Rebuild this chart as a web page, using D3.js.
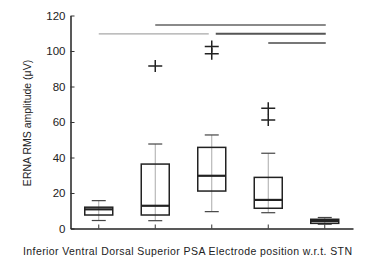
<!DOCTYPE html>
<html>
<head>
<meta charset="utf-8">
<script src="https://cdn.jsdelivr.net/npm/d3@7"></script>
<style>
body { margin: 0; background: #fff; }
svg text { font-family: "Liberation Sans", Arial, sans-serif; fill: #222; }
</style>
</head>
<body>
<script>
var categories = ["Inferior", "Ventral", "Dorsal", "Superior", "PSA"];
var whiskerLo = [4.5, 4.4, 9.5, 8.9, 2.4];
var q1 = [7.6, 7.6, 21.1, 11.4, 2.9];
var median = [10.8, 12.8, 29.7, 16.1, 4.2];
var q3 = [12, 36.3, 45.7, 28.8, 5.2];
var whiskerHi = [15.7, 47.6, 52.7, 42.4, 6.2];
var outliers = [[], [91.5], [98.5, 102.5], [61.1, 67.7], []];
var yTicks = [0, 20, 40, 60, 80, 100, 120];

// significance bars: from, to, level
var sigFrom = ["Ventral", "Inferior", "Dorsal", "Superior"];
var sigTo = ["PSA", "Dorsal", "PSA", "PSA"];
var sigLevel = [114.6, 109.7, 109.7, 104.5];

var yTitle = "ERNA RMS amplitude (\u03bcV)";
var xTitle = "Electrode position w.r.t. STN";

var width = 371, height = 260;

var svg = d3.select("body").append("svg")
	.attr("width", width)
	.attr("height", height);

var x = d3.scaleBand().domain(categories).range([70.5, 353]);
var y = d3.scaleLinear().domain([0, 120]).range([228.5, 15.5]);
var bw = 28, cw = 14;

var rows = categories.map(function(c, i) {
	return {cat: c, lo: whiskerLo[i], q1: q1[i], med: median[i], q3: q3[i], hi: whiskerHi[i], out: outliers[i]};
});

// significance lines
var sigColor = ["#8a8a8a", "#a8a8a8", "#555", "#777"];
var sigWidth = [2, 1.3, 2, 2];
sigFrom.forEach(function(f, i) {
	var x1 = x(f) + x.bandwidth() / 2, x2 = x(sigTo[i]) + x.bandwidth() / 2;
	if (i == 1) x2 -= 4;
	if (i == 2) x1 += 4;
	svg.append("line")
		.attr("x1", x1).attr("x2", x2 + 1)
		.attr("y1", y(sigLevel[i])).attr("y2", y(sigLevel[i]))
		.attr("stroke", sigColor[i])
		.attr("stroke-width", sigWidth[i]);
});

var g = svg.selectAll(".box")
	.data(rows)
	.enter().append("g")
	.attr("class", "box")
	.attr("transform", function(d) { return "translate(" + (x(d.cat) + x.bandwidth() / 2) + ",0)"; });

// whisker line
g.append("line")
	.attr("x1", 0).attr("x2", 0)
	.attr("y1", function(d) { return y(d.lo); })
	.attr("y2", function(d) { return y(d.hi); })
	.attr("stroke", "#aaa")
	.attr("stroke-width", 1);

// caps
["lo", "hi"].forEach(function(k) {
	g.append("line")
		.attr("x1", -cw / 2).attr("x2", cw / 2)
		.attr("y1", function(d) { return y(d[k]); })
		.attr("y2", function(d) { return y(d[k]); })
		.attr("stroke", "#444")
		.attr("stroke-width", 1.2);
});

g.append("rect")
	.attr("x", -bw / 2)
	.attr("width", bw)
	.attr("y", function(d) { return y(d.q3); })
	.attr("height", function(d) { return y(d.q1) - y(d.q3); })
	.attr("fill", "none")
	.attr("stroke", "#222")
	.attr("stroke-width", 1.5);

g.append("line")
	.attr("x1", -bw / 2).attr("x2", bw / 2)
	.attr("y1", function(d) { return y(d.med); })
	.attr("y2", function(d) { return y(d.med); })
	.attr("stroke", "#222")
	.attr("stroke-width", 2.2);

// outliers as +
g.each(function(d) {
	var s = d3.select(this);
	d.out.forEach(function(v) {
		s.append("path")
			.attr("d", "M-7," + y(v) + "h14M0," + (y(v) - 6) + "v12")
			.attr("stroke", "#222")
			.attr("stroke-width", 1.5);
	});
});

// AXIS
var yAxis = svg.append("g")
	.attr("transform", "translate(70.5,0)")
	.call(d3.axisLeft(y).tickValues(yTicks).tickSize(-4).tickSizeOuter(0).tickPadding(5));
yAxis.selectAll("text").style("font-size", "11.5px");

var xAxis = svg.append("g")
	.attr("transform", "translate(0,228.5)")
	.call(d3.axisBottom(x).tickSize(-4).tickSizeOuter(0).tickFormat(""));

svg.selectAll(".domain").attr("stroke", "#222").attr("stroke-width", 1.5);
svg.selectAll(".tick line").attr("stroke", "#333");

// AXIS LABELS
svg.append("text")
	.attr("x", 23)
	.attr("y", 255)
	.attr("textLength", 329)
	.style("font-size", "10.5px")
	.text(categories.join(" ") + " " + xTitle);

svg.append("text")
	.attr("transform", "translate(31,123) rotate(-90)")
	.attr("text-anchor", "middle")
	.style("font-size", "10.5px")
	.text(yTitle);
</script>
</body>
</html>
